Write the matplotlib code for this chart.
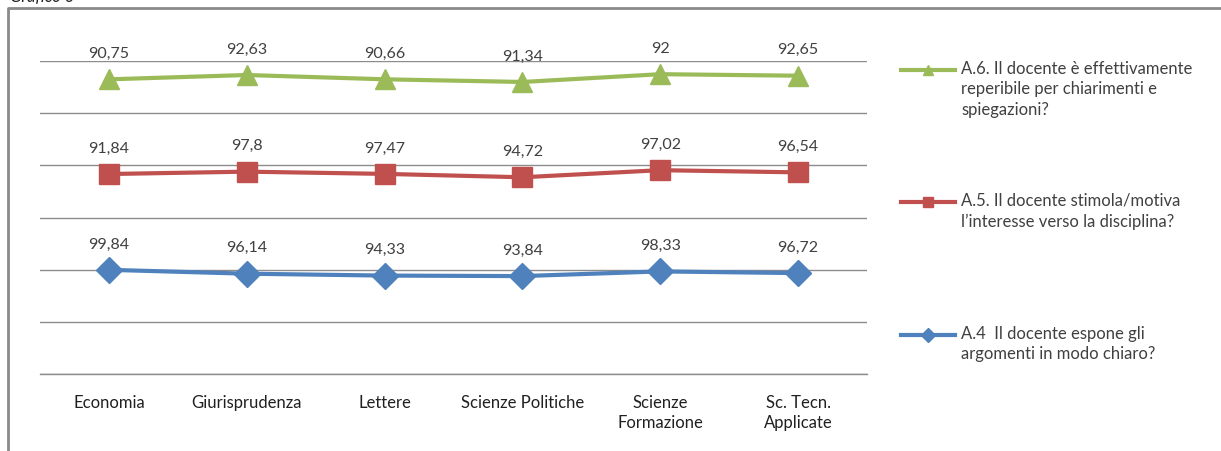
import matplotlib
matplotlib.use("Agg")
import matplotlib.pyplot as plt
from matplotlib.lines import Line2D
import numpy as np

categories = ["Economia", "Giurisprudenza", "Lettere", "Scienze Politiche",
              "Scienze\nFormazione", "Sc. Tecn.\nApplicate"]
a4 = [99.84, 96.14, 94.33, 93.84, 98.33, 96.72]
a5 = [91.84, 97.8, 97.47, 94.72, 97.02, 96.54]
a6 = [90.75, 92.63, 90.66, 91.34, 92, 92.65]
a4_labels = ["99,84", "96,14", "94,33", "93,84", "98,33", "96,72"]
a5_labels = ["91,84", "97,8", "97,47", "94,72", "97,02", "96,54"]
a6_labels = ["90,75", "92,63", "90,66", "91,34", "92", "92,65"]
legend_labels = [
    "A.6. Il docente è effettivamente\nreperibile per chiarimenti e\nspiegazioni?",
    "A.5. Il docente stimola/motiva\nl’interesse verso la disciplina?",
    "A.4  Il docente espone gli\nargomenti in modo chiaro?",
]

plt.rcParams['font.family'] = ['Lato', 'DejaVu Sans']
W, H = 1221, 452
fig = plt.figure(figsize=(W / 100, H / 100), dpi=100)

ax = fig.add_axes([40 / W, 1 - 375 / H, (867 - 40) / W, (375 - 62) / H])
x = np.arange(len(categories))
s1 = np.array(a4)
s2 = s1 + np.array(a5)
s3 = s2 + np.array(a6)

green, red, blue = "#9BBB59", "#C0504D", "#4F81BD"
txtc = "#404040"
gridc = "#8c8c8c"
ax.set_ylim(0, 300)
ax.set_xlim(-0.5, len(categories) - 0.5)
ax.set_yticks(np.arange(0, 301, 50))
ax.yaxis.grid(True, color=gridc, lw=1.0)
ax.axhline(0, color=gridc, lw=1.0, clip_on=False, zorder=1)
ax.set_axisbelow(True)
for sp in ax.spines.values():
    sp.set_visible(False)
ax.tick_params(axis='y', left=False, labelleft=False)
ax.tick_params(axis='x', bottom=False, pad=11, labelsize=12, labelcolor="#202020")
ax.set_xticks(x)
ax.set_xticklabels(categories, linespacing=1.3)

ax.plot(x, s1, color=blue, lw=3, marker="D", ms=13, zorder=3)
ax.plot(x, s2, color=red, lw=3, marker="s", ms=14, zorder=3)
ax.plot(x, s3, color=green, lw=3, marker="^", ms=15, zorder=3)

for ys, labs in ((s1, a4_labels), (s2, a5_labels), (s3, a6_labels)):
    for xi, yi, lb in zip(x, ys, labs):
        ax.annotate(lb, (xi, yi), xytext=(0, 19), textcoords="offset points",
                    ha="center", va="center", fontsize=11.5, color=txtc)

# legend drawn manually
leg = [(green, "^", 71, legend_labels[0]),
       (red, "s", 203, legend_labels[1]),
       (blue, "D", 336, legend_labels[2])]
for col, mk, ypx, lab in leg:
    yf = 1 - ypx / H
    fig.add_artist(Line2D([901 / W, 955 / W], [yf, yf], transform=fig.transFigure,
                          color=col, lw=3))
    fig.add_artist(Line2D([928 / W], [yf], transform=fig.transFigure,
                          color=col, marker=mk, ms=7, lw=0))
    fig.text(961 / W, yf + 10 / H, lab, ha="left", va="top", fontsize=12,
             color=txtc, linespacing=1.33)

# outer frame (partially visible)
fig.add_artist(Line2D([8 / W, 8 / W, 1.0], [0, 1 - 9 / H, 1 - 9 / H],
                      transform=fig.transFigure, color="#8a8a8a", lw=2))
fig.text(10 / W, 1 - 5 / H, "Grafico 6", ha="left", va="bottom", fontsize=12,
         style="italic", color="#202020")

fig.savefig("out.png", dpi=100)
